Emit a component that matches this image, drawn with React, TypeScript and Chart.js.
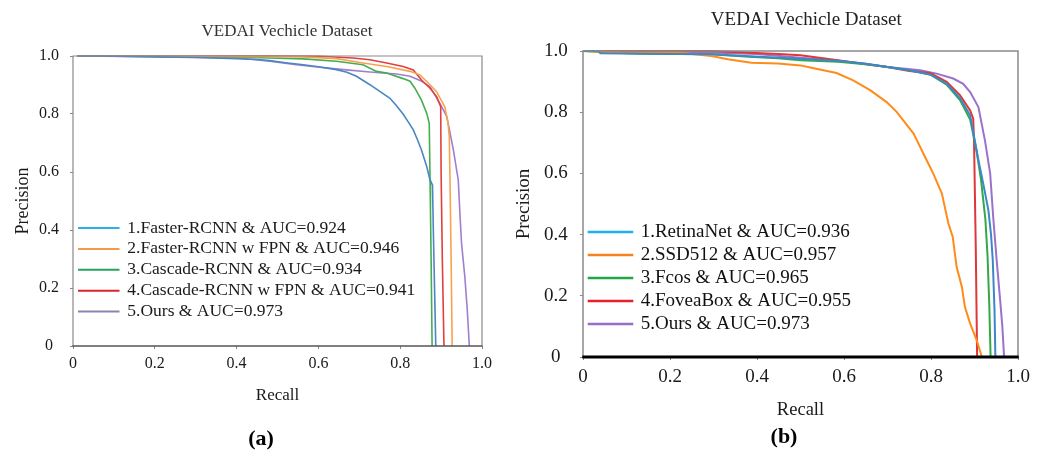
import React, { useEffect, useRef } from 'react';
import { Chart, registerables } from 'chart.js';

Chart.register(...registerables);

const SERIF = "'Liberation Serif', 'Times New Roman', Times, serif";

// ---------- shared tick labels ----------
const xTickLabels = ['0', '0.2', '0.4', '0.6', '0.8', '1.0'];
const yTickLabels = ['0', '0.2', '0.4', '0.6', '0.8', '1.0'];

// ---------- panel (a) ----------
const titleA = 'VEDAI Vechicle Dataset';
const captionA = '(a)';
const xTitleA = 'Recall';
const yTitleA = 'Precision';
const labelsA = [
  '1.Faster-RCNN & AUC=0.924',
  '2.Faster-RCNN w FPN & AUC=0.946',
  '3.Cascade-RCNN & AUC=0.934',
  '4.Cascade-RCNN w FPN & AUC=0.941',
  '5.Ours & AUC=0.973',
];
const colorsA = ['#4a86c2', '#f7a24f', '#45ad50', '#e0403f', '#a07fcf'];
const legendColorsA = ['#2ab0e4', '#f49b4a', '#25a55c', '#d92430', '#8e82b2'];

const fasterRecall = [0.01, 0.1, 0.2, 0.3, 0.4, 0.45, 0.481, 0.52, 0.563, 0.6, 0.644, 0.67, 0.693, 0.726, 0.75, 0.775, 0.79, 0.807, 0.82, 0.832, 0.842, 0.852, 0.865, 0.873, 0.879, 0.881, 0.884, 0.887];
const fasterPrecision = [1.0, 0.999, 0.997, 0.995, 0.991, 0.988, 0.984, 0.977, 0.97, 0.963, 0.953, 0.944, 0.93, 0.901, 0.878, 0.854, 0.83, 0.8, 0.772, 0.745, 0.712, 0.676, 0.618, 0.572, 0.555, 0.4, 0.2, 0];

const fasterFpnRecall = [0.01, 0.2, 0.4, 0.5, 0.562, 0.644, 0.709, 0.767, 0.824, 0.848, 0.865, 0.889, 0.909, 0.917, 0.92, 0.922, 0.925, 0.927];
const fasterFpnPrecision = [1.0, 0.999, 0.998, 0.998, 0.997, 0.991, 0.976, 0.964, 0.947, 0.935, 0.912, 0.877, 0.825, 0.768, 0.722, 0.55, 0.25, 0];

const cascadeRecall = [0.01, 0.2, 0.4, 0.481, 0.563, 0.644, 0.709, 0.742, 0.767, 0.807, 0.824, 0.836, 0.852, 0.865, 0.871, 0.873, 0.874, 0.876, 0.878];
const cascadePrecision = [1.0, 0.999, 0.996, 0.993, 0.99, 0.982, 0.97, 0.947, 0.941, 0.922, 0.913, 0.889, 0.848, 0.802, 0.768, 0.572, 0.469, 0.25, 0];

const cascadeFpnRecall = [0.01, 0.2, 0.4, 0.5, 0.603, 0.685, 0.726, 0.767, 0.807, 0.832, 0.852, 0.873, 0.889, 0.899, 0.9, 0.903, 0.907];
const cascadeFpnPrecision = [1.0, 1.0, 1.0, 1.0, 0.999, 0.993, 0.987, 0.976, 0.964, 0.952, 0.917, 0.889, 0.86, 0.825, 0.6, 0.3, 0];

const oursARecall = [0.01, 0.2, 0.4, 0.44, 0.481, 0.546, 0.603, 0.669, 0.726, 0.791, 0.824, 0.85, 0.873, 0.897, 0.914, 0.93, 0.942, 0.946, 0.95, 0.958, 0.964, 0.969];
const oursAPrecision = [1.0, 0.998, 0.993, 0.988, 0.982, 0.97, 0.961, 0.952, 0.945, 0.938, 0.93, 0.915, 0.894, 0.837, 0.791, 0.676, 0.572, 0.457, 0.354, 0.239, 0.124, 0];

// ---------- panel (b) ----------
const titleB = 'VEDAI Vechicle Dataset';
const captionB = '(b)';
const xTitleB = 'Recall';
const yTitleB = 'Precision';
const labelsB = [
  '1.RetinaNet & AUC=0.936',
  '2.SSD512 & AUC=0.957',
  '3.Fcos & AUC=0.965',
  '4.FoveaBox & AUC=0.955',
  '5.Ours & AUC=0.973',
];
const colorsB = ['#3c87c8', '#ff8c1a', '#35a845', '#e0363a', '#9b72cb'];
const legendColorsB = ['#1fb1ea', '#f5821f', '#1ea84a', '#e62128', '#9b6ec5'];

const retinaRecall = [0.0, 0.035, 0.04, 0.142, 0.295, 0.372, 0.45, 0.586, 0.65, 0.7, 0.75, 0.8, 0.836, 0.867, 0.89, 0.909, 0.921, 0.932, 0.938, 0.942, 0.946, 0.948];
const retinaPrecision = [1.0, 1.0, 0.993, 0.991, 0.989, 0.984, 0.978, 0.968, 0.958, 0.948, 0.937, 0.922, 0.893, 0.845, 0.79, 0.643, 0.56, 0.479, 0.4, 0.316, 0.153, 0];

const ssdRecall = [0.0, 0.1, 0.218, 0.295, 0.333, 0.387, 0.448, 0.5, 0.525, 0.583, 0.621, 0.66, 0.698, 0.721, 0.76, 0.79, 0.805, 0.825, 0.84, 0.85, 0.859, 0.871, 0.878, 0.89, 0.905, 0.917];
const ssdPrecision = [1.0, 0.995, 0.995, 0.984, 0.973, 0.962, 0.959, 0.953, 0.945, 0.928, 0.904, 0.872, 0.833, 0.801, 0.73, 0.643, 0.6, 0.534, 0.436, 0.392, 0.294, 0.229, 0.163, 0.109, 0.055, 0];

const fcosRecall = [0.0, 0.1, 0.142, 0.295, 0.372, 0.448, 0.5, 0.586, 0.65, 0.7, 0.75, 0.8, 0.836, 0.867, 0.89, 0.904, 0.915, 0.925, 0.93, 0.934, 0.937];
const fcosPrecision = [1.0, 0.993, 0.991, 0.989, 0.982, 0.976, 0.97, 0.965, 0.957, 0.948, 0.937, 0.922, 0.89, 0.839, 0.776, 0.68, 0.58, 0.45, 0.33, 0.17, 0];

const foveaRecall = [0.0, 0.2, 0.295, 0.372, 0.45, 0.5, 0.586, 0.65, 0.7, 0.75, 0.798, 0.836, 0.867, 0.89, 0.897, 0.899, 0.903, 0.906];
const foveaPrecision = [1.0, 1.0, 1.0, 0.995, 0.99, 0.986, 0.97, 0.957, 0.948, 0.935, 0.928, 0.899, 0.855, 0.806, 0.779, 0.7, 0.35, 0];

const oursBRecall = [0.0, 0.2, 0.295, 0.4, 0.5, 0.586, 0.65, 0.7, 0.775, 0.813, 0.851, 0.874, 0.89, 0.909, 0.924, 0.936, 0.943, 0.951, 0.959, 0.964, 0.968];
const oursBPrecision = [1.0, 0.998, 0.995, 0.99, 0.978, 0.968, 0.958, 0.948, 0.937, 0.926, 0.91, 0.893, 0.866, 0.817, 0.708, 0.6, 0.457, 0.316, 0.185, 0.1, 0];

const seriesA = [
  [fasterRecall, fasterPrecision],
  [fasterFpnRecall, fasterFpnPrecision],
  [cascadeRecall, cascadePrecision],
  [cascadeFpnRecall, cascadeFpnPrecision],
  [oursARecall, oursAPrecision],
];
const seriesB = [
  [retinaRecall, retinaPrecision],
  [ssdRecall, ssdPrecision],
  [fcosRecall, fcosPrecision],
  [foveaRecall, foveaPrecision],
  [oursBRecall, oursBPrecision],
];

const toPoints = (rs: number[], ps: number[]) => rs.map((x, i) => ({ x, y: ps[i] }));

const framePlugin = {
  id: 'frame',
  afterDatasetsDraw(chart: any, _args: any, opts: any) {
    const { ctx, chartArea } = chart;
    const { left, top, right, bottom } = chartArea;
    ctx.save();
    ctx.strokeStyle = opts.color;
    ctx.lineWidth = opts.width;
    ctx.beginPath();
    ctx.moveTo(left, bottom);
    ctx.lineTo(left, top);
    ctx.lineTo(right, top);
    ctx.lineTo(right, bottom);
    ctx.stroke();
    ctx.strokeStyle = opts.bottomColor;
    ctx.lineWidth = opts.bottomWidth;
    ctx.beginPath();
    ctx.moveTo(left - opts.width / 2, bottom);
    ctx.lineTo(right + opts.width / 2, bottom);
    ctx.stroke();
    ctx.restore();
  },
};

const panelTextPlugin = {
  id: 'panelText',
  afterDraw(chart: any, _args: any, opts: any) {
    const ctx = chart.ctx;
    ctx.save();
    ctx.textAlign = 'center';
    ctx.textBaseline = 'middle';
    ctx.fillStyle = opts.titleColor;
    ctx.font = `${opts.titleSize}px ${SERIF}`;
    ctx.fillText(opts.title, opts.titleX, opts.titleY);
    ctx.fillStyle = '#000';
    ctx.font = `bold ${opts.captionSize}px ${SERIF}`;
    ctx.fillText(opts.caption, opts.captionX, opts.captionY);
    const lg = opts.legend;
    ctx.textAlign = 'left';
    ctx.font = `${lg.size}px ${SERIF}`;
    chart.data.datasets.forEach((ds: any, i: number) => {
      const y = lg.y + i * lg.gap;
      ctx.strokeStyle = ds.legendColor;
      ctx.lineWidth = lg.lineWidth;
      ctx.beginPath();
      ctx.moveTo(lg.x, y);
      ctx.lineTo(lg.x + lg.lineLen, y);
      ctx.stroke();
      ctx.fillStyle = lg.color;
      ctx.fillText(ds.label, lg.textX, y + lg.textDy);
    });
    ctx.restore();
  },
};

type PanelCfg = {
  series: number[][][];
  labels: string[];
  colors: string[];
  legendColors: string[];
  lineWidth: number;
  padding: { left: number; right: number; top: number; bottom: number };
  yWidth: number;
  xHeight: number;
  tickSize: number;
  xTickPad: number;
  yTickPad: number;
  xTitle: string;
  yTitle: string;
  xTitleSize: number;
  yTitleSize: number;
  xTitlePad: number;
  yTitlePad: number;
  frame: any;
  text: any;
};

function makeConfig(c: PanelCfg): any {
  return {
    type: 'scatter',
    data: {
      datasets: c.series.map(([rs, ps], i) => ({
        label: c.labels[i],
        data: toPoints(rs, ps),
        showLine: true,
        borderColor: c.colors[i],
        backgroundColor: c.colors[i],
        borderWidth: c.lineWidth,
        pointRadius: 0,
        tension: 0,
        clip: false,
        legendColor: c.legendColors[i],
      })),
    },
    options: {
      responsive: false,
      animation: false,
      layout: { padding: c.padding },
      events: [],
      scales: {
        x: {
          type: 'linear',
          min: 0,
          max: 1,
          afterFit: (s: any) => {
            s.height = c.xHeight;
          },
          border: { display: false },
          grid: { display: true, drawOnChartArea: false, drawTicks: true, tickLength: 3, color: '#888' },
          ticks: {
            stepSize: 0.2,
            autoSkip: false,
            maxRotation: 0,
            padding: c.xTickPad,
            color: '#1a1a1a',
            font: { family: SERIF, size: c.tickSize },
            callback: (_v: any, i: number) => xTickLabels[i],
          },
          title: {
            display: true,
            text: c.xTitle,
            color: '#1a1a1a',
            font: { family: SERIF, size: c.xTitleSize },
            padding: { top: 0, bottom: c.xTitlePad },
          },
        },
        y: {
          type: 'linear',
          min: 0,
          max: 1,
          afterFit: (s: any) => {
            s.width = c.yWidth;
          },
          border: { display: false },
          grid: { display: true, drawOnChartArea: false, drawTicks: true, tickLength: 3, color: '#888' },
          ticks: {
            stepSize: 0.2,
            autoSkip: false,
            padding: c.yTickPad,
            crossAlign: 'center',
            color: '#1a1a1a',
            font: { family: SERIF, size: c.tickSize },
            callback: (_v: any, i: number) => yTickLabels[i],
          },
          title: {
            display: true,
            text: c.yTitle,
            color: '#1a1a1a',
            font: { family: SERIF, size: c.yTitleSize },
            padding: { top: c.yTitlePad, bottom: 0 },
          },
        },
      },
      plugins: {
        legend: { display: false },
        tooltip: { enabled: false },
        frame: c.frame,
        panelText: c.text,
      },
    },
    plugins: [framePlugin, panelTextPlugin],
  };
}

const cfgA: PanelCfg = {
  series: seriesA,
  labels: labelsA,
  colors: colorsA,
  legendColors: legendColorsA,
  lineWidth: 1.6,
  padding: { left: 0, right: 38, top: 56, bottom: 0 },
  yWidth: 73,
  xHeight: 104,
  tickSize: 16,
  xTickPad: 5,
  yTickPad: 11,
  xTitle: xTitleA,
  yTitle: yTitleA,
  xTitleSize: 17,
  yTitleSize: 18,
  xTitlePad: 44,
  yTitlePad: 12.5,
  frame: { color: '#8a8a8a', width: 1.2, bottomColor: '#555', bottomWidth: 1.4 },
  text: {
    title: titleA,
    titleX: 287,
    titleY: 32,
    titleSize: 17,
    titleColor: '#333',
    caption: captionA,
    captionX: 261,
    captionY: 439,
    captionSize: 22,
    legend: { x: 78, y: 228, gap: 20.9, lineLen: 41.5, textX: 127.3, size: 17.5, lineWidth: 2, color: '#1a1a1a', textDy: 0 },
  },
};

const cfgB: PanelCfg = {
  series: seriesB,
  labels: labelsB,
  colors: colorsB,
  legendColors: legendColorsB,
  lineWidth: 2,
  padding: { left: 0, right: 23, top: 51, bottom: 0 },
  yWidth: 83,
  xHeight: 93,
  tickSize: 19,
  xTickPad: 6,
  yTickPad: 12.3,
  xTitle: xTitleB,
  yTitle: yTitleB,
  xTitleSize: 18.5,
  yTitleSize: 19,
  xTitlePad: 29,
  yTitlePad: 12.6,
  frame: { color: '#8a8a8a', width: 1.5, bottomColor: '#000', bottomWidth: 3 },
  text: {
    title: titleB,
    titleX: 306.3,
    titleY: 20,
    titleSize: 19,
    titleColor: '#222',
    caption: captionB,
    captionX: 284,
    captionY: 437.3,
    captionSize: 22,
    legend: { x: 87.7, y: 232, gap: 23, lineLen: 45.6, textX: 140.7, size: 19, lineWidth: 2.5, color: '#111', textDy: 0 },
  },
};

export default function App() {
  const refA = useRef<HTMLCanvasElement | null>(null);
  const refB = useRef<HTMLCanvasElement | null>(null);

  useEffect(() => {
    const a = new Chart(refA.current as HTMLCanvasElement, makeConfig(cfgA));
    const b = new Chart(refB.current as HTMLCanvasElement, makeConfig(cfgB));
    return () => {
      a.destroy();
      b.destroy();
    };
  }, []);

  return (
    <div style={{ position: 'fixed', left: 0, top: 0, width: 1041, height: 450, background: '#fff', overflow: 'hidden' }}>
      <canvas ref={refA} width={520} height={450} style={{ position: 'absolute', left: 0, top: 0, width: 520, height: 450 }} />
      <canvas ref={refB} width={541} height={450} style={{ position: 'absolute', left: 500, top: 0, width: 541, height: 450 }} />
    </div>
  );
}
